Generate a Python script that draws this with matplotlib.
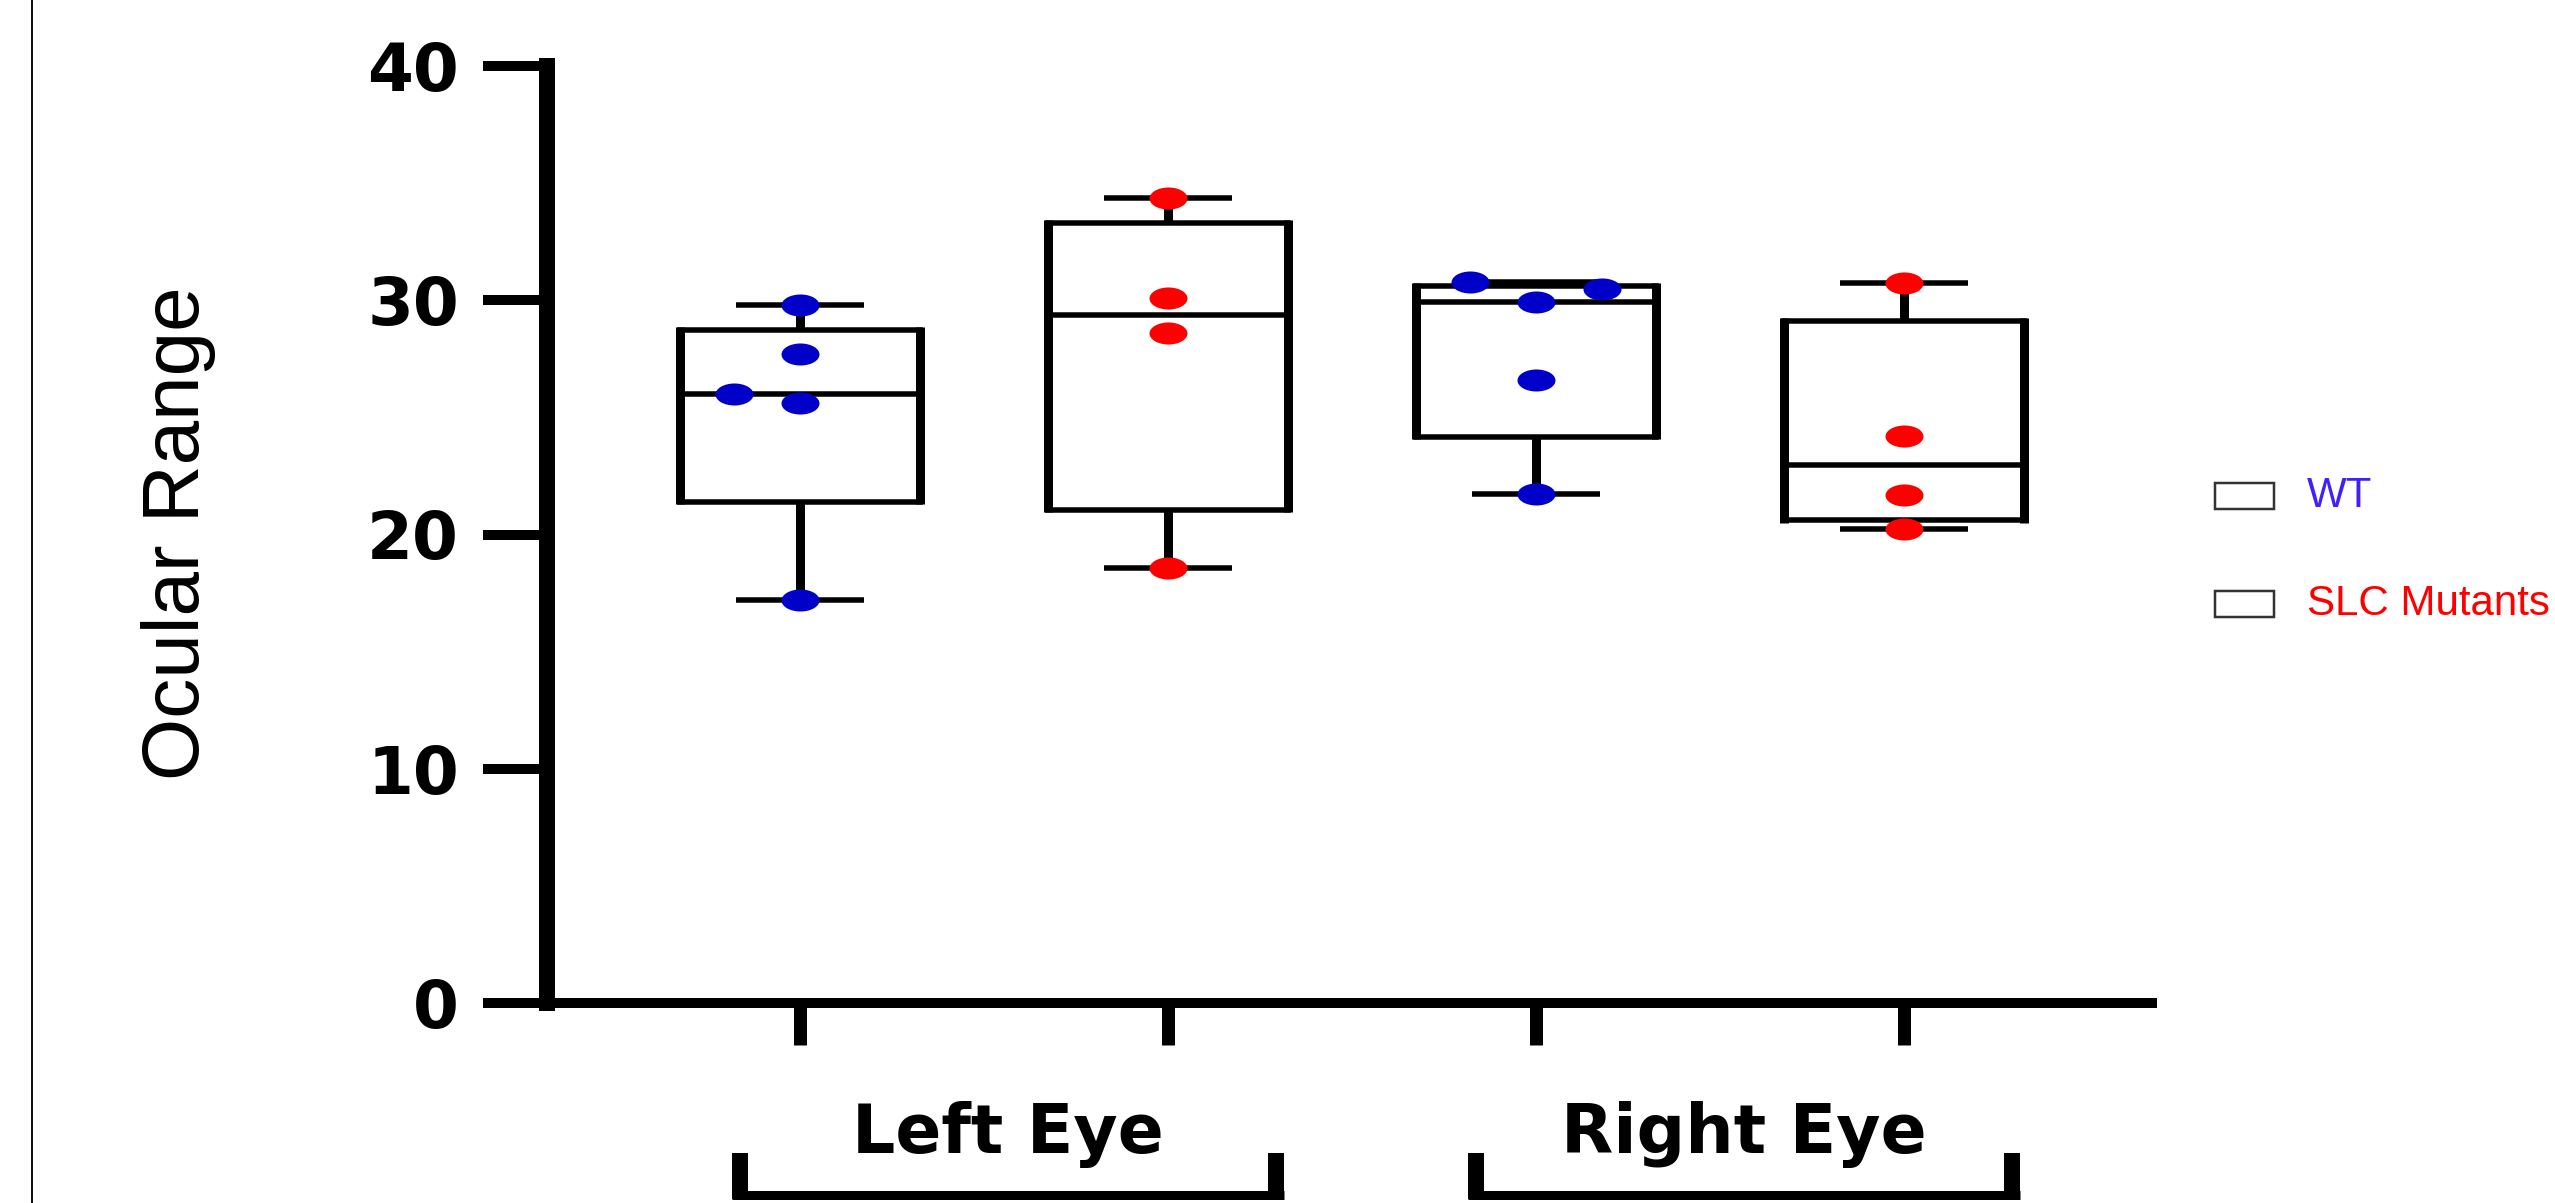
import numpy as np
import matplotlib
matplotlib.use("Agg")
import matplotlib.pyplot as plt
from matplotlib import transforms, font_manager
from matplotlib.path import Path
from matplotlib.markers import MarkerStyle
from matplotlib.patches import Rectangle
from matplotlib.lines import Line2D

# ---- data -------------------------------------------------------------
groups = ["Left Eye", "Right Eye"]
series = ["WT", "SLC Mutants"]
wt_left = [29.8, 27.7, 25.6, 26.0, 17.2]
slc_left = [34.35, 30.1, 28.6, 18.55]
wt_right = [29.93, 30.76, 30.47, 26.6, 21.75]
slc_right = [30.75, 24.2, 21.7, 20.25]
y_ticks = [0, 10, 20, 30, 40]
y_label = "Ocular Range"

# ---- styling ----------------------------------------------------------
W, H, DPI = 2555, 1203, 100
PT = 72 / DPI                      # points per pixel
point_colors = ["#0000C8", "#FF0000"]
legend_colors = ["#4020FF", "#FF0000"]

plt.rcParams["font.family"] = ["DejaVu Sans"]
names = {f.name for f in font_manager.fontManager.ttflist}
narrow = "Liberation Sans Narrow" in names
ylab_family = "Liberation Sans Narrow" if narrow else "Liberation Sans"
ylab_size = (97 if narrow else 80) * PT

fig = plt.figure(figsize=(W / DPI, H / DPI), dpi=DPI)


def fy(ypx):
    """Figure fraction for a pixel row counted from the top."""
    return 1 - ypx / H


ax = fig.add_axes([547 / W, fy(1003), (2152 - 547) / W, (1003 - 66) / H])

boxes = [wt_left, slc_left, wt_right, slc_right]
box_series = [0, 1, 0, 1]
positions = np.arange(len(boxes))

ax.set_xlim(-0.6875, 3.674)
ax.set_ylim(0, 40)

box_w = 0.652
cap_w = 0.348
lw_v_px, lw_h_px = 9.0, 5.5
lw_v = lw_v_px * PT     # vertical strokes
lw_h = lw_h_px * PT     # horizontal strokes

# half a horizontal stroke, in data units, so box sides meet the edges cleanly
px_per_unit = ax.transData.transform((0, 1))[1] - ax.transData.transform((0, 0))[1]
ext = (lw_h_px / 2) / px_per_unit

for p, vals in zip(positions, boxes):
    v = np.asarray(vals, dtype=float)
    q1, med, q3 = np.percentile(v, [25, 50, 75], method="weibull")
    lo, hi = v.min(), v.max()
    ax.vlines([p - box_w / 2, p + box_w / 2], q1 - ext, q3 + ext,
              colors="k", linewidth=lw_v, zorder=2)
    edges = ax.hlines([q1, med, q3], p - box_w / 2, p + box_w / 2,
                      colors="k", linewidth=lw_h, zorder=2)
    edges.set_capstyle("projecting")
    ax.vlines([p, p], [q3, lo], [hi, q1], colors="k", linewidth=lw_v, zorder=2)
    ax.hlines([lo, hi], p - cap_w / 2, p + cap_w / 2,
              colors="k", linewidth=lw_h, zorder=2)

# ellipse marker for the individual measurements
circ = Path.unit_circle()
ellipse = MarkerStyle(Path(circ.vertices * np.array([1.0, 0.58]), circ.codes))
mk_w_px, mk_h_px = 38, 22
step = 0.18

for p, vals, s in zip(positions, boxes, box_series):
    placed = []
    xs = []
    for val in vals:
        for k in [0, -1, 1, -2, 2, -3, 3]:
            x = p + k * step
            px = ax.transData.transform((x, val))
            if all(abs(px[0] - q[0]) >= mk_w_px or abs(px[1] - q[1]) >= mk_h_px
                   for q in placed):
                break
        placed.append(px)
        xs.append(x)
    ax.plot(xs, vals, linestyle="none", marker=ellipse, markersize=mk_w_px * PT,
            color=point_colors[s], markeredgewidth=0, zorder=3)

# axes cosmetics
for side in ["top", "right"]:
    ax.spines[side].set_visible(False)
ax.spines["left"].set_linewidth(16 * PT)
ax.spines["bottom"].set_linewidth(10 * PT)
ax.spines["left"].set_capstyle("projecting")
ax.spines["bottom"].set_capstyle("projecting")

ax.set_yticks(y_ticks)
ax.set_yticklabels([str(t) for t in y_ticks], fontsize=66 * PT,
                   fontweight="bold")
ax.tick_params(axis="y", direction="out", length=64 * PT, width=10 * PT,
               pad=24 * PT)
ax.set_xticks(positions)
ax.set_xticklabels([])
ax.tick_params(axis="x", direction="out", length=42 * PT, width=13 * PT)

# group brackets and labels under the axis
trans = transforms.blended_transform_factory(ax.transData, fig.transFigure)
half = 0.75
leg_off = 8 / 368
for gi, name in enumerate(groups):
    mid = positions[2 * gi:2 * gi + 2].mean() + 0.065
    for xl in (mid - half + leg_off, mid + half - leg_off):
        ax.plot([xl, xl], [fy(1153), fy(1199)], transform=trans, color="k",
                linewidth=16 * PT, solid_capstyle="butt", clip_on=False)
    ax.plot([mid - half, mid + half], [fy(1194.5), fy(1194.5)], transform=trans,
            color="k", linewidth=9 * PT, solid_capstyle="butt", clip_on=False)
    ax.text(mid, fy(1153), name, transform=trans, ha="center", va="baseline",
            fontsize=68 * PT, fontweight="bold", clip_on=False)

fig.text(179 / W, fy(533), y_label, rotation=90, ha="center", va="center",
         family=ylab_family, fontsize=ylab_size)

# legend
for i, (name, col) in enumerate(zip(series, legend_colors)):
    yc = 496 + i * 108
    fig.add_artist(Rectangle((2215 / W, fy(yc + 13)), 59 / W, 26 / H,
                             transform=fig.transFigure, fill=False,
                             edgecolor="#333333", linewidth=2.5 * PT))
    fig.text(2307 / W, fy(yc), name, ha="left", va="center", color=col,
             family="Liberation Sans", fontsize=42 * PT)

# thin frame line on the left edge
fig.add_artist(Line2D([32 / W, 32 / W], [0, 1], transform=fig.transFigure,
                      color="#111111", linewidth=2 * PT))

fig.savefig("out.png", dpi=DPI)
